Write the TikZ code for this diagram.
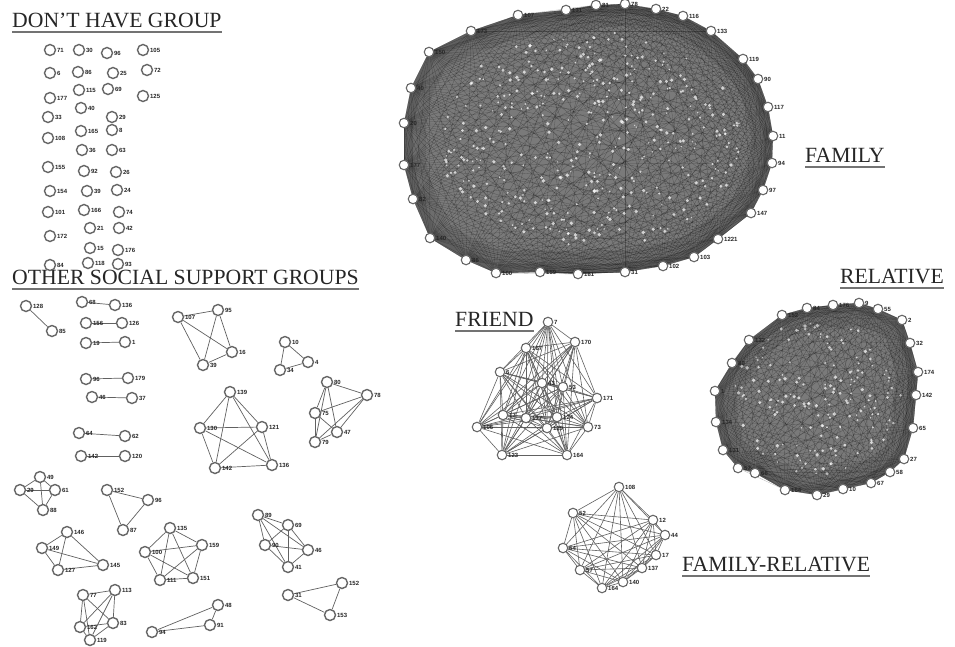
\documentclass[tikz,border=0pt]{standalone}
\usepackage{fontspec}
\setmainfont{Liberation Serif}
\setsansfont{Liberation Sans}
\usetikzlibrary{backgrounds}
\pgfdeclarelayer{bottom}
\pgfsetlayers{bottom,background,main}
\tikzset{
  nd/.style={circle,draw=black!60,line width=1.4pt,fill=white,minimum size=11pt,inner sep=0pt},
  sn/.style={circle,draw=black!60,line width=1.1pt,fill=white,minimum size=9.5pt,inner sep=0pt},
  lbl/.style={font=\fontsize{6}{6}\selectfont\bfseries\sffamily,text=black!85,inner sep=0.4pt},
  lnk/.style={draw=black!62,line width=0.7pt},
  flnk/.style={draw=black!62,line width=0.6pt},
  dlnk/.style={draw=black,line width=0.3pt,opacity=0.3},
  dfill/.style={fill=black!52},
  rima/.style={draw=black,opacity=0.1,line width=44pt,line join=round},
  rimb/.style={draw=black,opacity=0.12,line width=18pt,line join=round},
  spk/.style={fill=white,opacity=0.7},
  hd/.style={font=\fontsize{21.7}{22}\selectfont,inner sep=0pt,anchor=base west,text=black!85},
  ul/.style={draw=black!55,line width=1.3pt},
}
\newcommand\pn[5][nd]{\node[#1,label={[lbl,label distance=0.3pt]right:#5}] (#2) at (#3,#4) {};}
\newcommand\mkclique[3][lnk]{\foreach \i in {1,...,#3}{\foreach \j in {\i,...,#3}{\ifnum\i<\j\relax \draw[#1] (#2\i)--(#2\j);\fi}}}
% speckles: centre x, centre y, rx, ry, count
\newcommand\speckle[5]{\foreach \k in {1,...,#5}{%
  \pgfmathsetmacro\rr{sqrt(rnd)*0.84}\pgfmathsetmacro\tt{360*rnd}\pgfmathsetmacro\ss{0.7+1.2*rnd}%
  \fill[spk] ({#1+#3*\rr*cos(\tt)},{#2+#4*\rr*sin(\tt)}) circle (\ss pt);}}
\begin{document}
\begin{tikzpicture}[x=1pt,y=-1pt]
\pgfmathsetseed{4711}
\useasboundingbox (0,0) rectangle (955,646);
\begin{pgfonlayer}{bottom}
\fill[white] (0,0) rectangle (955,646);
\end{pgfonlayer}

% headings
\node[hd] (h1) at (12,27) {DON’T HAVE GROUP};
\node[hd] (h2) at (12,284) {OTHER SOCIAL SUPPORT GROUPS};
\node[hd] (h3) at (805,162) {FAMILY};
\node[hd] (h4) at (840,283) {RELATIVE};
\node[hd] (h5) at (455,326) {FRIEND};
\node[hd] (h6) at (682,571) {FAMILY-RELATIVE};
\foreach \h in {h1,h2,h3,h4,h5,h6}
  \draw[ul] ([yshift=-5pt]\h.base west) -- ([yshift=-5pt]\h.base east);

% don't have group
\foreach \x/\y/\l [count=\i] in {50/50/71,79/50/30,107/53/96,143/50/105,
  50/73/6,78/72/86,113/73/25,147/70/72,
  50/98/177,79/90/115,108/89/69,143/96/125,
  48/117/33,81/108/40,112/117/29,
  48/138/108,81/131/165,112/130/8,
  82/150/36,112/150/63,
  48/167/155,84/171/92,116/172/26,
  50/191/154,87/191/39,117/190/24,
  48/212/101,84/210/166,119/212/74,
  50/236/172,90/228/21,119/228/42,
  90/248/15,118/250/176,
  50/265/84,88/263/118,118/264/93}
  {\pn{d\i}{\x}{\y}{\l}}

% pairs
\foreach \x/\y/\l [count=\i] in {26/306/128,52/331/85,82/302/68,115/305/136,
  86/323/156,122/323/126,86/343/19,125/342/1,86/379/96,128/378/179,
  92/397/46,132/398/37,79/433/64,125/436/62,81/456/142,125/456/120}
  {\pn{o\i}{\x}{\y}{\l}}
\begin{scope}[on background layer]
\foreach \a/\b in {o1/o2,o3/o4,o5/o6,o7/o8,o9/o10,o11/o12,o13/o14,o15/o16}
  \draw[lnk] (\a)--(\b);
\end{scope}

% small cliques
\foreach \x/\y/\l [count=\i] in {178/317/107,218/310/95,232/352/16,203/365/39} {\pn{qa\i}{\x}{\y}{\l}}
\foreach \x/\y/\l [count=\i] in {285/342/10,308/362/4,280/370/34} {\pn{qb\i}{\x}{\y}{\l}}
\foreach \x/\y/\l [count=\i] in {230/392/139,200/428/130,262/427/121,215/468/142,272/465/136} {\pn{qc\i}{\x}{\y}{\l}}
\foreach \x/\y/\l [count=\i] in {327/382/80,367/395/78,315/413/75,337/432/47,315/442/79} {\pn{qd\i}{\x}{\y}{\l}}
\foreach \x/\y/\l [count=\i] in {40/477/49,20/490/29,55/490/61,43/510/88} {\pn{qe\i}{\x}{\y}{\l}}
\foreach \x/\y/\l [count=\i] in {107/490/152,148/500/96,123/530/87} {\pn{qf\i}{\x}{\y}{\l}}
\foreach \x/\y/\l [count=\i] in {67/532/146,42/548/149,58/570/127,103/565/145} {\pn{qg\i}{\x}{\y}{\l}}
\foreach \x/\y/\l [count=\i] in {170/528/135,145/552/100,202/545/159,160/580/111,193/578/151} {\pn{qh\i}{\x}{\y}{\l}}
\foreach \x/\y/\l [count=\i] in {83/595/77,115/590/113,80/627/162,113/623/83,90/640/119} {\pn{qi\i}{\x}{\y}{\l}}
\foreach \x/\y/\l [count=\i] in {152/632/94,218/605/48,210/625/91} {\pn{qj\i}{\x}{\y}{\l}}
\foreach \x/\y/\l [count=\i] in {258/515/89,288/525/69,265/545/90,308/550/46,288/567/41} {\pn{qk\i}{\x}{\y}{\l}}
\foreach \x/\y/\l [count=\i] in {288/595/31,342/583/152,330/615/153} {\pn{ql\i}{\x}{\y}{\l}}
\begin{scope}[on background layer]
\mkclique{qa}{4}\mkclique{qb}{3}\mkclique{qc}{5}\mkclique{qd}{5}
\mkclique{qe}{4}\mkclique{qf}{3}\mkclique{qg}{4}\mkclique{qh}{5}
\mkclique{qi}{5}\mkclique{qj}{3}\mkclique{qk}{5}\mkclique{ql}{3}
\end{scope}

% friend
\foreach \x/\y/\l [count=\i] in {548/322/7,575/342/170,526/348/167,500/372/6,542/383/43,
  563/387/53,597/398/171,503/415/17,526/418/177,557/417/124,477/427/106,
  547/428/129,588/427/73,502/455/123,567/455/164} {\pn[sn]{fr\i}{\x}{\y}{\l}}
% family-relative
\foreach \x/\y/\l [count=\i] in {619/487/108,573/513/52,653/520/12,665/535/44,563/548/54,
  656/555/17,642/568/137,580/570/57,623/582/140,602/588/164} {\pn[sn]{fx\i}{\x}{\y}{\l}}
\begin{scope}[on background layer]
\mkclique[flnk]{fr}{15}
\mkclique[flnk]{fx}{10}
\end{scope}

% family
\foreach \x/\y/\l [count=\i] in {429/52/150,471/31/173,518/15/107,566/10/131,596/5/81,
  625/4/78,656/9/22,683/16/116,711/31/133,743/59/119,758/79/90,768/107/117,
  773/136/11,772/163/94,763/190/97,751/213/147,718/239/1221,694/257/103,
  663/266/102,625/272/31,578/274/181,540/272/159,496/273/100,466/260/86,
  430/238/140,413/199/82,404/165/177,404/123/20,411/88/40} {\pn[sn]{fa\i}{\x}{\y}{\l}}
% relative
\foreach \x/\y/\l [count=\i] in {749/340/132,782/315/152,807/308/84,833/305/176,859/303/9,
  878/309/55,902/320/2,910/343/32,918/372/174,916/395/142,913/428/65,
  904/459/27,890/472/58,871/483/67,843/489/10,817/495/29,785/490/164,
  755/473/66,738/468/57,723/450/131,716/422/134,715/391/1,732/363/80} {\pn[sn]{re\i}{\x}{\y}{\l}}
\begin{scope}[on background layer]
\fill[dfill] (fa1.center) \foreach \i in {2,...,29}{-- (fa\i.center)} -- cycle;
\mkclique[dlnk]{fa}{29}
\speckle{590}{140}{180}{130}{420}
\begin{scope}
\clip (fa1.center) \foreach \i in {2,...,29}{-- (fa\i.center)} -- cycle;
\draw[rima] (fa1.center) \foreach \i in {2,...,29}{-- (fa\i.center)} -- cycle;
\draw[rimb] (fa1.center) \foreach \i in {2,...,29}{-- (fa\i.center)} -- cycle;
\end{scope}
\fill[dfill] (re1.center) \foreach \i in {2,...,23}{-- (re\i.center)} -- cycle;
\mkclique[dlnk]{re}{23}
\speckle{818}{398}{100}{92}{170}
\begin{scope}
\clip (re1.center) \foreach \i in {2,...,23}{-- (re\i.center)} -- cycle;
\draw[rima] (re1.center) \foreach \i in {2,...,23}{-- (re\i.center)} -- cycle;
\draw[rimb] (re1.center) \foreach \i in {2,...,23}{-- (re\i.center)} -- cycle;
\end{scope}
\end{scope}
\end{tikzpicture}
\end{document}
